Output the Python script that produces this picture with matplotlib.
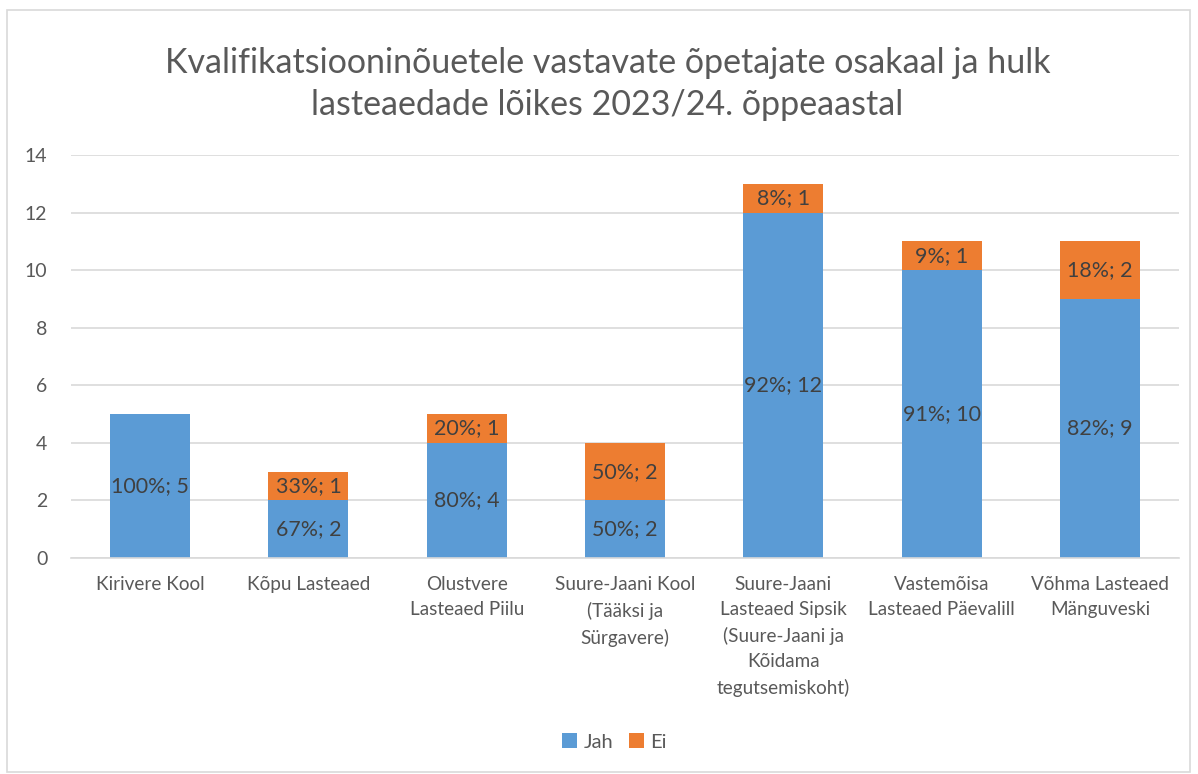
import matplotlib
matplotlib.use("Agg")
import matplotlib.pyplot as plt
from matplotlib.patches import Rectangle

plt.rcParams['font.family'] = ['Lato', 'DejaVu Sans']

categories = [
    "Kirivere Kool",
    "Kõpu Lasteaed",
    "Olustvere\nLasteaed Piilu",
    "Suure-Jaani Kool\n(Tääksi ja\nSürgavere)",
    "Suure-Jaani\nLasteaed Sipsik\n(Suure-Jaani ja\nKõidama\ntegutsemiskoht)",
    "Vastemõisa\nLasteaed Päevalill",
    "Võhma Lasteaed\nMänguveski",
]
jah = [5, 2, 4, 2, 12, 10, 9]
ei = [0, 1, 1, 2, 1, 1, 2]
jah_pct = ["100%", "67%", "80%", "50%", "92%", "91%", "82%"]
ei_pct = ["0%", "33%", "20%", "50%", "8%", "9%", "18%"]
yticks = [0, 2, 4, 6, 8, 10, 12, 14]

BLUE = "#5B9BD5"
ORANGE = "#ED7D31"
TXT = "#595959"
LBL = "#404040"

fig = plt.figure(figsize=(11.98, 7.74), dpi=100)
fig.patches.append(Rectangle((7/1198, 0.003), 1183/1198, 1 - 10/774 - 0.003,
                             transform=fig.transFigure, fill=False,
                             edgecolor="#D9D9D9", linewidth=1.2))

ax = fig.add_axes([71/1198, 1 - 558/774, (1179 - 71)/1198, (558 - 155)/774])
x = list(range(len(categories)))
ax.bar(x, jah, width=0.505, color=BLUE, label="Jah", zorder=2)
ax.bar(x, ei, width=0.505, bottom=jah, color=ORANGE, label="Ei", zorder=2)

for i in x:
    if jah[i] > 0:
        ax.text(i, jah[i] / 2, f"{jah_pct[i]}; {jah[i]}", ha="center", va="center",
                fontsize=15.4, color=LBL, zorder=3)
    if ei[i] > 0:
        ax.text(i, jah[i] + ei[i] / 2, f"{ei_pct[i]}; {ei[i]}", ha="center", va="center",
                fontsize=15.4, color=LBL, zorder=3)

ax.set_xlim(-0.5, len(categories) - 0.5)
ax.set_ylim(0, 14)
ax.set_yticks(yticks)
ax.yaxis.grid(True, color="#D9D9D9", linewidth=1.2, zorder=0)
ax.set_axisbelow(True)
for s in ["top", "right", "left"]:
    ax.spines[s].set_visible(False)
ax.spines["bottom"].set_color("#D9D9D9")
ax.spines["bottom"].set_linewidth(1.2)
ax.tick_params(axis="y", length=0, labelsize=14, labelcolor=TXT, pad=17)
ax.tick_params(axis="x", length=0, labelsize=13.6, labelcolor=TXT, pad=13)
ax.set_xticks(x)
ax.set_xticklabels(categories, linespacing=1.58, va="top")

fig.text(0.507, 1 - 63/774, "Kvalifikatsiooninõuetele vastavate õpetajate osakaal ja hulk",
         ha="center", va="center", fontsize=24.5, color=TXT)
fig.text(0.507, 1 - 105/774, "lasteaedade lõikes 2023/24. õppeaastal",
         ha="center", va="center", fontsize=24.5, color=TXT)

leg = fig.legend(loc="center", bbox_to_anchor=(0.513, 1 - 742/774), ncol=2, frameon=False,
                 fontsize=14.5, handlelength=0.75, handleheight=0.75, handletextpad=0.3,
                 columnspacing=0.8)
for t in leg.get_texts():
    t.set_color(TXT)

fig.savefig("out.png", dpi=100)
